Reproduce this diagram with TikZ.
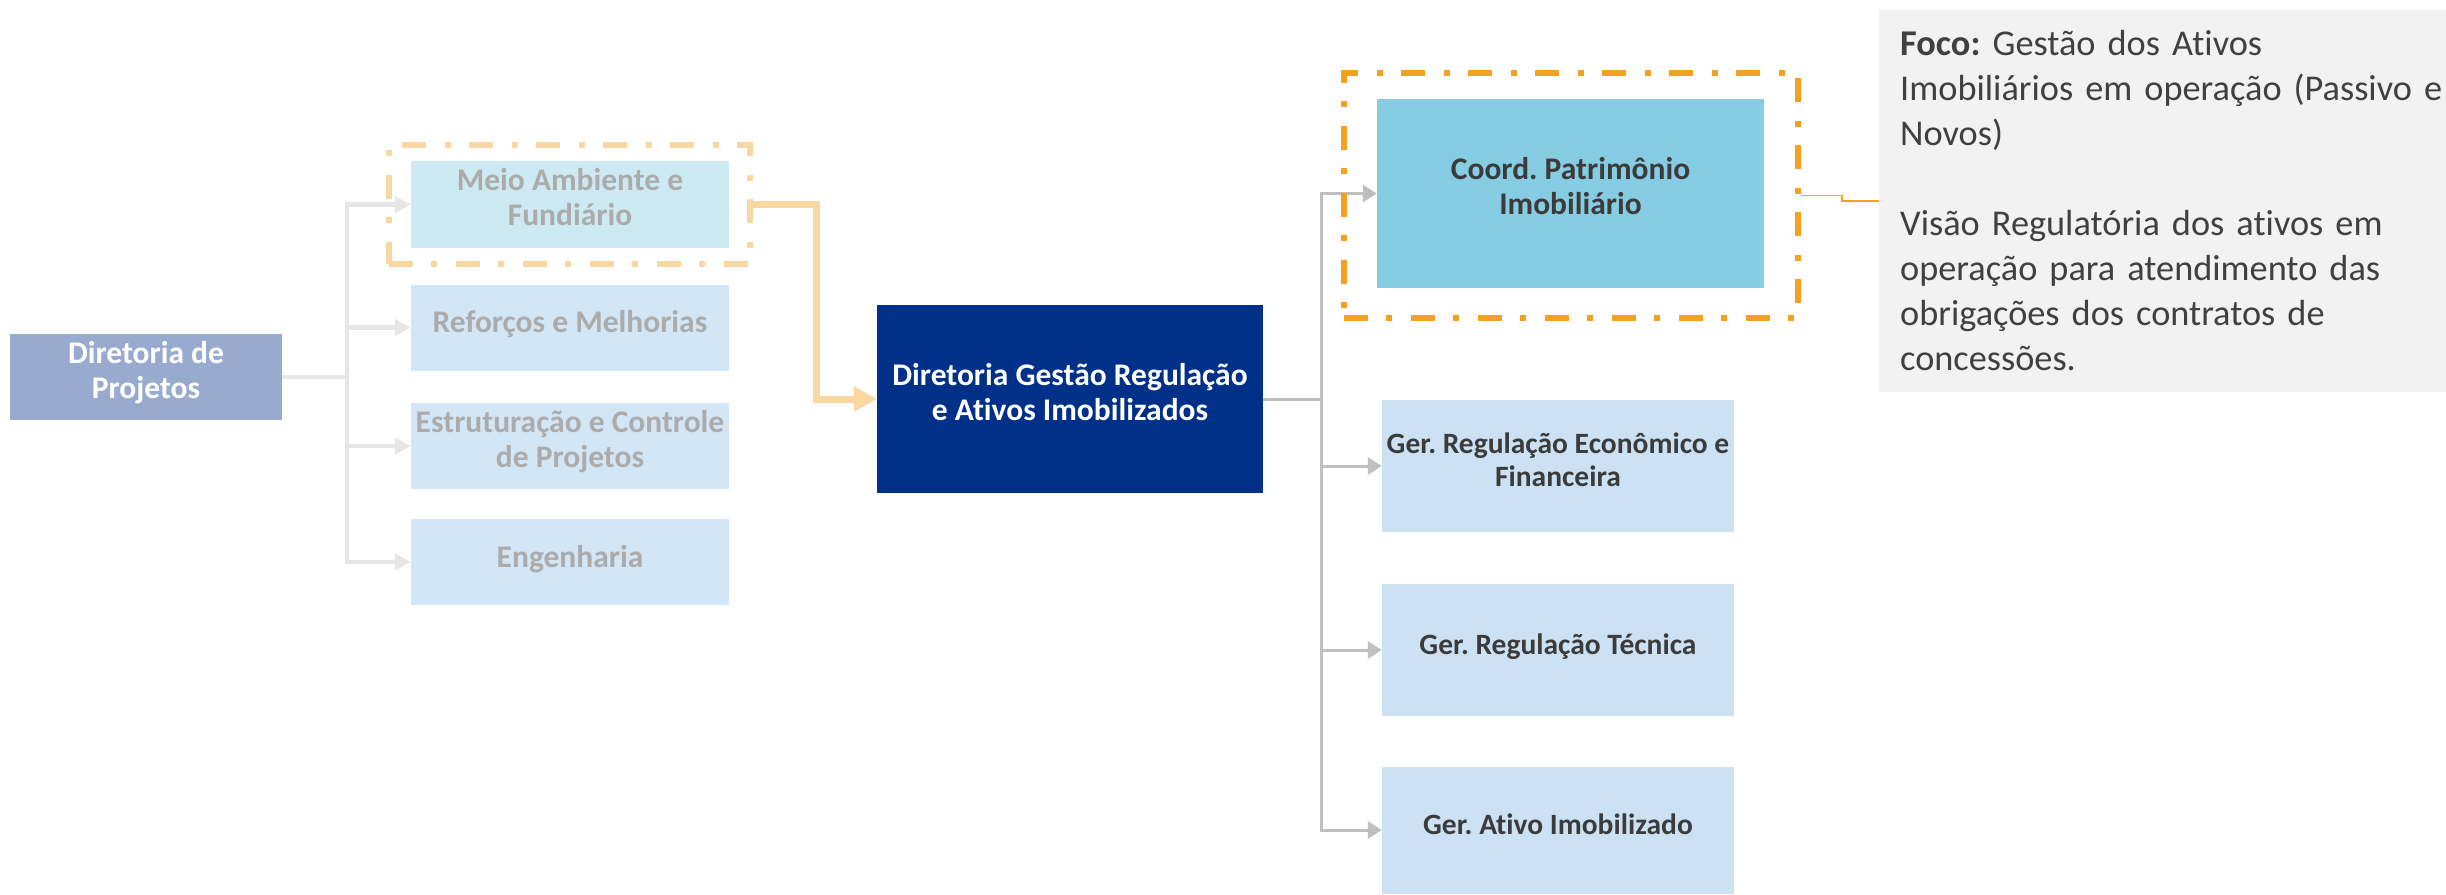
\documentclass[tikz,border=0pt]{standalone}
\usepackage{fontspec}
\setmainfont{Carlito}[Ligatures={NoCommon}]
\usetikzlibrary{arrows.meta,backgrounds}
\definecolor{dprojc}{HTML}{98ABCF}
\definecolor{meioc}{HTML}{CDEAF3}
\definecolor{fadeblue}{HTML}{D3E6F5}
\definecolor{fadetext}{HTML}{ABABAB}
\definecolor{dgesc}{HTML}{003087}
\definecolor{coordc}{HTML}{86CDE3}
\definecolor{gerc}{HTML}{CCE2F4}
\definecolor{darktext}{HTML}{3B3B3B}
\definecolor{calloutbg}{HTML}{F2F2F2}
\definecolor{callouttext}{HTML}{404040}
\definecolor{orangec}{HTML}{F4A020}
\definecolor{fadeorange}{HTML}{F9D7A1}
\definecolor{grayline}{HTML}{BFBFBF}
\definecolor{lightline}{HTML}{E6E6E6}
\frenchspacing
\newcommand\topstrut{\rule{0pt}{0.78em}}
\newcommand\botstrut{\rule[-0.46em]{0pt}{0.46em}}
\begin{document}
\begin{tikzpicture}[x=1pt,y=-1pt,
  lbl/.style={rectangle, inner sep=0pt, align=center, font=\bfseries\fontsize{31.5}{35}\selectfont,
              execute at begin node=\topstrut, execute at end node=\botstrut},
  fadebox/.style={lbl, fill=fadeblue, text=fadetext, minimum width=318pt, minimum height=86pt},
  gerbox/.style={lbl, fill=gerc, text=darktext, minimum width=352pt, minimum height=132pt, font=\bfseries\fontsize{29.5}{33}\selectfont},
  lightarrow/.style={draw=lightline, line width=4.5pt, -{Triangle[length=16pt,width=16pt]}},
  grayarrow/.style={draw=grayline, line width=3pt, -{Triangle[length=14pt,width=17pt]}},
  hlarrow/.style={draw=fadeorange, line width=7pt, -{Triangle[length=23pt,width=24pt]}},
  frameline/.style={rectangle, inner sep=0pt, dash pattern=on 24pt off 18pt on 6pt off 19pt},
]
\useasboundingbox (0,0) rectangle (2446,894);

% left part
\node[lbl, fill=dprojc, text=white, minimum width=272pt, minimum height=86pt] (dproj) at (146,377) {Diretoria de\\Projetos};
\node[fadebox, fill=meioc, minimum height=87pt] (meio) at (570,204.5) {Meio Ambiente e\\Fundiário};
\node[fadebox] (refor) at (570,327.5) {Reforços e Melhorias};
\node[fadebox] (estr) at (570,446) {Estruturação e Controle\\de Projetos};
\node[fadebox] (eng) at (570,562) {Engenharia};
\node[frameline, draw=fadeorange, line width=6pt, minimum width=361pt, minimum height=119pt] (meioframe) at (569.5,204.5) {};

% centre
\node[lbl, fill=dgesc, text=white, minimum width=386pt, minimum height=188pt] (dges) at (1070,399) {Diretoria Gestão Regulação\\e Ativos Imobilizados};

% right part
\node[lbl, fill=coordc, text=darktext, minimum width=387pt, minimum height=189pt] (coord) at (1570.5,193.5) {Coord. Patrimônio\\Imobiliário};
\node[frameline, draw=orangec, line width=5.5pt, minimum width=454pt, minimum height=245pt] (cframe) at (1571,195.5) {};
\node[gerbox] (grec) at (1558,466) {Ger. Regulação Econômico e\\Financeira};
\node[gerbox] (grtec) at (1558,650) {Ger. Regulação Técnica};
\node[gerbox, minimum height=127pt] (gativ) at (1558,830) {Ger. Ativo Imobilizado};

% callout
\node[rectangle, fill=calloutbg, text=callouttext, anchor=west, inner xsep=21pt, inner ysep=0pt,
      text width=546pt, minimum height=382pt, align=left,
      font=\fontsize{36.3}{45}\selectfont] (callout) at (1879,201)
  {\textbf{Foco:} Gestão dos Ativos\\
   Imobiliários em operação (Passivo e\\
   Novos)\\[45pt]
   Visão Regulatória dos ativos em\\
   operação para atendimento das\\
   obrigações dos contratos de\\
   concessões.};

\begin{scope}[on background layer]
  \fill[white] (0,0) rectangle (2446,894);
  % left connectors
  \draw[lightarrow] (dproj.east) -- ++(65,0) coordinate (lbus) |- (meio.west);
  \draw[lightarrow] (lbus) |- (refor.west);
  \draw[lightarrow] (lbus) |- (estr.west);
  \draw[lightarrow] (lbus) |- (eng.west);
  % highlighted connector
  \draw[hlarrow] (meioframe.east) -- ++(63,0) |- (dges.west);
  % right connectors
  \draw[grayarrow] (dges.east) -- ++(58,0) coordinate (rbus) |- (coord.west);
  \draw[grayarrow] (rbus) |- (grec.west);
  \draw[grayarrow] (rbus) |- (grtec.west);
  \draw[grayarrow] (rbus) |- (gativ.west);
  % callout connector
  \draw[orangec, line width=1.5pt] (cframe.east) -- ++(41,0) |- (callout.west);
\end{scope}
\end{tikzpicture}
\end{document}
